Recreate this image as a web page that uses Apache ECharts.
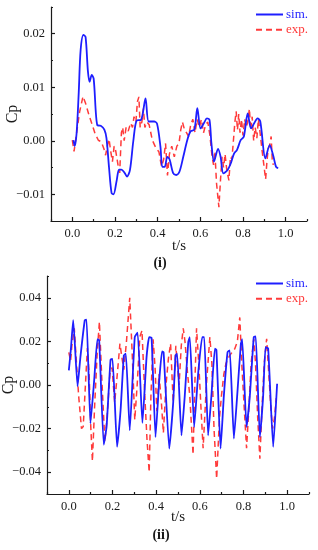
<!DOCTYPE html>
<html>
<head>
<meta charset="utf-8">
<script src="https://cdn.jsdelivr.net/npm/echarts@6/dist/echarts.min.js"></script>
<style>
html,body{margin:0;padding:0;background:#fff;}
#c{width:318px;height:550px;}
</style>
</head>
<body>
<div id="c"></div>
<script>
// ---- data ----
var xMajorTicks = [0, 0.2, 0.4, 0.6, 0.8, 1.0];
var xMinorTicks = [-0.1, 0.1, 0.3, 0.5, 0.7, 0.9, 1.1];
var yTopMajor = [-0.01, 0, 0.01, 0.02];
var yTopMinor = [-0.015, -0.005, 0.005, 0.015, 0.025];
var yBotMajor = [-0.04, -0.02, 0, 0.02, 0.04];
var yBotMinor = [-0.05, -0.03, -0.01, 0.01, 0.03, 0.05];
var seriesNames = ['sim.', 'exp.'];
var panelLabels = ['(i)', '(ii)'];

var simTop = [[0.005,0.0001],[0.011,-0.001],[0.02,0.0014],[0.03,0.009],[0.039,0.017],[0.052,0.0198],[0.062,0.0194],[0.073,0.013],[0.081,0.011],[0.091,0.0123],[0.1,0.0116],[0.117,0.0029],[0.133,0.0028],[0.15,0.0021],[0.16,0.0005],[0.172,-0.005],[0.184,-0.0098],[0.193,-0.0100],[0.208,-0.0074],[0.219,-0.0054],[0.23,-0.0054],[0.245,-0.006],[0.256,-0.0067],[0.27,-0.0055],[0.286,0.0],[0.302,0.0038],[0.322,0.0039],[0.343,0.0079],[0.358,0.0036],[0.383,0.0036],[0.397,0.0032],[0.413,-0.0011],[0.422,-0.0049],[0.433,-0.0049],[0.445,-0.003],[0.456,-0.0035],[0.472,-0.006],[0.487,-0.0064],[0.502,-0.0058],[0.52,-0.003],[0.538,0.0],[0.553,0.0017],[0.572,0.0021],[0.586,0.0061],[0.601,0.0023],[0.617,0.0033],[0.631,0.0042],[0.643,0.0039],[0.652,-0.0005],[0.664,-0.0039],[0.683,-0.0015],[0.695,-0.003],[0.708,-0.0061],[0.727,-0.0055],[0.742,-0.0043],[0.758,-0.0024],[0.772,-0.0017],[0.789,0.0001],[0.804,0.0008],[0.822,0.0051],[0.838,0.0023],[0.853,0.0033],[0.868,0.0042],[0.881,0.0036],[0.905,-0.0033],[0.925,-0.0008],[0.943,-0.003],[0.955,-0.0049],[0.965,-0.0051]];

var expTop = [[0,0.0001],[0.008,-0.002],[0.023,0.0023],[0.034,0.0054],[0.05,0.0083],[0.062,0.007],[0.078,0.0048],[0.094,0.0029],[0.106,0.0014],[0.122,0.0001],[0.136,-0.0002],[0.148,-0.0015],[0.156,-0.0027],[0.164,-0.001],[0.172,0.0003],[0.18,-0.002],[0.188,-0.0039],[0.196,-0.001],[0.203,-0.0018],[0.214,-0.0045],[0.222,-0.006],[0.23,0.0015],[0.236,0.0025],[0.243,0.0],[0.252,0.0025],[0.262,0.0018],[0.273,0.0033],[0.282,0.0025],[0.289,0.0045],[0.298,0.0035],[0.305,0.0073],[0.312,0.0082],[0.318,0.0025],[0.326,0.0035],[0.333,0.006],[0.34,0.0025],[0.35,0.0035],[0.36,0.003],[0.375,0.0001],[0.39,-0.0012],[0.406,-0.0021],[0.418,-0.0048],[0.428,-0.0035],[0.437,-0.0005],[0.446,-0.0065],[0.455,-0.0025],[0.466,-0.001],[0.478,-0.003],[0.49,-0.001],[0.5,-0.0005],[0.508,0.002],[0.516,0.0035],[0.525,0.0022],[0.535,0.0015],[0.545,0.0008],[0.555,0.003],[0.565,0.004],[0.575,0.0015],[0.585,0.004],[0.595,0.0025],[0.605,0.004],[0.615,0.0015],[0.625,0.003],[0.635,0.0035],[0.645,0.001],[0.655,-0.003],[0.662,-0.0045],[0.668,-0.002],[0.676,-0.008],[0.687,-0.0124],[0.695,-0.007],[0.702,-0.003],[0.709,-0.005],[0.716,-0.0025],[0.724,-0.0055],[0.734,-0.0074],[0.741,-0.003],[0.748,-0.0035],[0.755,0.0],[0.762,0.0035],[0.768,0.0055],[0.774,0.002],[0.78,0.005],[0.786,0.0015],[0.793,0.004],[0.8,0.001],[0.808,0.004],[0.815,0.0025],[0.822,0.0035],[0.83,0.006],[0.836,0.002],[0.843,0.0045],[0.85,0.0],[0.857,0.0025],[0.865,0.0005],[0.872,0.004],[0.88,0.0015],[0.89,-0.002],[0.906,-0.0072],[0.912,-0.004],[0.918,-0.0015],[0.924,-0.001],[0.932,0.0008],[0.937,-0.0035],[0.942,-0.0045]];

var simBot = [[0,0.0067],[0.009,0.016],[0.02,0.0297],[0.04,-0.0006],[0.053,0.0128],[0.073,0.0297],[0.081,0.030],[0.099,-0.0177],[0.116,0.002],[0.131,0.021],[0.139,0.0205],[0.16,-0.0274],[0.173,-0.019],[0.191,0.0116],[0.2,0.012],[0.221,-0.0284],[0.237,-0.0116],[0.252,0.0136],[0.261,0.0144],[0.279,-0.0208],[0.302,0.022],[0.315,0.024],[0.337,-0.0174],[0.356,0.0128],[0.368,0.022],[0.379,0.0216],[0.397,-0.0239],[0.414,0.002],[0.427,0.0154],[0.434,0.015],[0.46,-0.0292],[0.478,-0.008],[0.489,0.0136],[0.496,0.0144],[0.516,-0.0231],[0.531,-0.005],[0.547,0.0197],[0.554,0.022],[0.574,-0.0193],[0.593,0.006],[0.611,0.022],[0.62,0.022],[0.638,-0.0231],[0.653,-0.005],[0.669,0.0167],[0.676,0.016],[0.695,-0.0292],[0.71,-0.005],[0.727,0.0151],[0.737,0.0159],[0.756,-0.0246],[0.771,-0.005],[0.788,0.019],[0.794,0.021],[0.814,-0.0193],[0.829,-0.005],[0.847,0.022],[0.856,0.0223],[0.875,-0.0239],[0.89,-0.005],[0.901,0.0174],[0.913,0.0167],[0.936,-0.0284],[0.954,0.0006]];

var expBot = [[0,0.015],[0.008,0.011],[0.014,0.018],[0.025,0.026],[0.035,0.01],[0.045,-0.005],[0.058,-0.02],[0.066,-0.019],[0.076,0.0],[0.085,0.017],[0.093,0.005],[0.1,-0.018],[0.108,-0.035],[0.118,-0.01],[0.13,0.015],[0.14,0.029],[0.15,0.005],[0.165,-0.026],[0.175,-0.015],[0.188,0.005],[0.198,0.008],[0.21,-0.008],[0.222,0.005],[0.234,0.019],[0.244,0.012],[0.252,0.007],[0.264,0.02],[0.279,0.040],[0.29,0.015],[0.302,-0.016],[0.313,0.0],[0.325,0.022],[0.335,0.025],[0.348,-0.005],[0.358,-0.025],[0.368,-0.040],[0.376,-0.005],[0.386,0.021],[0.395,0.008],[0.403,-0.012],[0.413,0.005],[0.424,-0.008],[0.433,-0.022],[0.445,0.0],[0.456,0.012],[0.466,0.019],[0.478,-0.008],[0.49,0.018],[0.505,0.0],[0.515,0.018],[0.524,0.026],[0.532,0.02],[0.544,0.005],[0.554,-0.005],[0.569,-0.032],[0.577,0.0],[0.585,0.026],[0.595,0.01],[0.605,-0.01],[0.615,-0.029],[0.63,0.0],[0.646,0.022],[0.655,0.01],[0.665,-0.02],[0.677,-0.043],[0.69,-0.015],[0.699,-0.005],[0.71,0.005],[0.72,0.01],[0.737,0.0136],[0.76,0.0166],[0.772,0.02],[0.783,0.031],[0.792,0.01],[0.803,-0.01],[0.814,-0.029],[0.825,-0.01],[0.835,0.01],[0.847,0.0212],[0.855,0.01],[0.865,-0.015],[0.875,-0.0338],[0.885,-0.01],[0.895,0.01],[0.906,0.0212],[0.916,0.005],[0.925,-0.01],[0.933,-0.02],[0.942,-0.015],[0.95,-0.006]];

// ---- chart ----
var FONT = 'Liberation Serif';
var BLUE = '#1e1eff';
var RED = '#ff3a3a';
var AXC = '#1a1a1a';

function fmtY(v){ var s = v.toFixed(2); if (v < -1e-9) s = '\u2212' + s.slice(1); if (Math.abs(v) < 1e-9) s='0.00'; return s; }
function fmtX(v){ var s = v.toFixed(1); if (Math.abs(v) < 1e-9) s='0.0'; return s; }

function mainX(grid, nameGap){
  return {type:'value', gridIndex:grid, position:'bottom', min:-0.1, max:1.1,
    name:'t/s', nameLocation:'middle', nameGap:nameGap, nameMoveOverlap:false,
    nameTextStyle:{fontFamily:FONT, fontSize:15, color:AXC},
    axisLine:{show:true, onZero:false, lineStyle:{color:AXC, width:1.2}},
    axisTick:{show:true, inside:true, length:4, customValues:xMajorTicks, lineStyle:{color:AXC, width:1.2}},
    axisLabel:{show:true, customValues:xMajorTicks, formatter:fmtX, fontFamily:FONT, fontSize:12.5, color:AXC, margin:6},
    splitLine:{show:false}};
}
function minorX(grid){
  return {type:'value', gridIndex:grid, position:'bottom', min:-0.1, max:1.1,
    axisLine:{show:false, onZero:false},
    axisTick:{show:true, inside:true, length:2, customValues:xMinorTicks, lineStyle:{color:AXC, width:1.2}},
    axisLabel:{show:false, customValues:xMinorTicks},
    splitLine:{show:false}};
}
function mainY(grid, mn, mx, major, nameGap){
  return {type:'value', gridIndex:grid, position:'left', min:mn, max:mx,
    name:'Cp', nameLocation:'middle', nameGap:nameGap, nameRotate:90, nameMoveOverlap:false,
    nameTextStyle:{fontFamily:FONT, fontSize:16, color:AXC},
    axisLine:{show:true, onZero:false, lineStyle:{color:AXC, width:1.2}},
    axisTick:{show:true, inside:true, length:4, customValues:major, lineStyle:{color:AXC, width:1.2}},
    axisLabel:{show:true, customValues:major, formatter:fmtY, fontFamily:FONT, fontSize:12.5, color:AXC, margin:6},
    splitLine:{show:false}};
}
function minorY(grid, mn, mx, minor){
  return {type:'value', gridIndex:grid, position:'left', min:mn, max:mx,
    axisLine:{show:false, onZero:false},
    axisTick:{show:true, inside:true, length:2, customValues:minor, lineStyle:{color:AXC, width:1.2}},
    axisLabel:{show:false, customValues:minor},
    splitLine:{show:false}};
}
function legendAt(top){
  return {orient:'vertical', left:255, top:top, padding:0, itemWidth:27, itemHeight:14, itemGap:2.3,
    itemStyle:{opacity:0},
    data:[{name:seriesNames[0], textStyle:{color:BLUE}}, {name:seriesNames[1], textStyle:{color:RED}}],
    textStyle:{fontFamily:FONT, fontSize:13, padding:[0,0,0,-2]}};
}
function line(name, xi, yi, data, color, dashed, smooth, width){
  return {type:'line', name:name, xAxisIndex:xi, yAxisIndex:yi, data:data,
    showSymbol:false, symbol:'none', smooth:smooth, animation:false,
    lineStyle:{color:color, width:width, type: dashed ? [6,4] : 'solid'},
    itemStyle:{color:color}};
}

var chart = echarts.init(document.getElementById('c'), null, {renderer:'canvas'});
chart.setOption({
  backgroundColor:'#fff',
  animation:false,
  grid:[
    {left:51, top:7, width:256, height:214, containLabel:false, outerBoundsMode:'none'},
    {left:47, top:276, width:262, height:218, containLabel:false, outerBoundsMode:'none'}
  ],
  xAxis:[mainX(0,18), minorX(0), mainX(1,16), minorX(1)],
  yAxis:[mainY(0,-0.015,0.025,yTopMajor,30), minorY(0,-0.015,0.025,yTopMinor),
         mainY(1,-0.05,0.05,yBotMajor,30), minorY(1,-0.05,0.05,yBotMinor)],
  legend:[legendAt(8), legendAt(277)],
  title:[
    {text:panelLabels[0], left:160, top:256, textAlign:'center', padding:0,
     textStyle:{fontFamily:FONT, fontSize:14, fontWeight:'bold', color:AXC}},
    {text:panelLabels[1], left:161, top:528, textAlign:'center', padding:0,
     textStyle:{fontFamily:FONT, fontSize:14, fontWeight:'bold', color:AXC}}
  ],
  series:[
    line(seriesNames[1], 0, 0, expTop, RED, true, false, 1.5),
    line(seriesNames[0], 0, 0, simTop, BLUE, false, 0.3, 1.8),
    line(seriesNames[1], 2, 2, expBot, RED, true, false, 1.5),
    line(seriesNames[0], 2, 2, simBot, BLUE, false, 0.15, 1.8)
  ]
});
</script>
</body>
</html>
